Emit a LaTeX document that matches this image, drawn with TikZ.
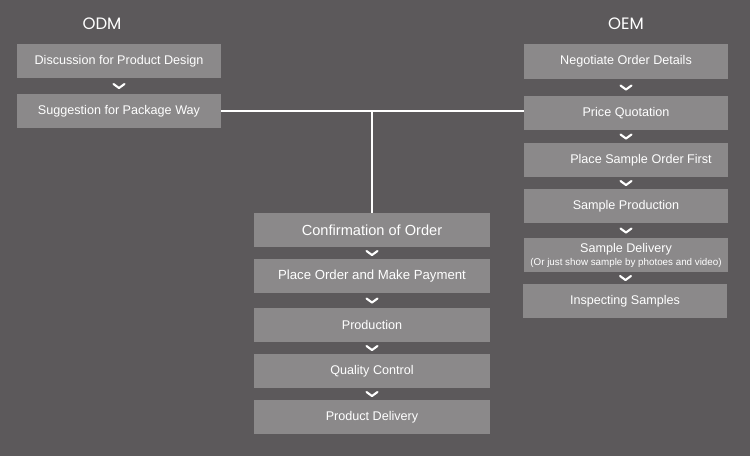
\documentclass[tikz,border=0pt]{standalone}
\usepackage{fontspec}
\setmainfont{Liberation Sans}
\newfontfamily\headfont{Poppins}
\usetikzlibrary{calc}
\definecolor{bgc}{HTML}{5C595B}
\definecolor{boxc}{HTML}{8B898A}
\tikzset{
  stepbox/.style={fill=boxc, text=white, inner sep=0pt, minimum height=34pt, align=center, font=\fontsize{12.6}{14}\selectfont},
  odmbox/.style={stepbox, minimum width=204pt},
  midbox/.style={stepbox, minimum width=236pt},
  head/.style={text=white, font=\headfont\fontsize{16.5}{18}\selectfont},
  link/.style={draw=white, line width=1.6pt},
  chev/.pic={\draw[white, line width=2.1pt, line cap=round, line join=round] (-5.5,-2) -- (0,2) -- (5.5,-2);}
}
\begin{document}
\begin{tikzpicture}[x=1pt, y=-1pt]
\fill[bgc] (0,0) rectangle (750,456);
\useasboundingbox (0,0) rectangle (750,456);

\node[head] (odm) at (102,24) {ODM};
\node[head] (oem) at (626,24) {OEM};

% ODM
\node[odmbox] (o1) at (119,61) {Discussion for Product Design};
\node[odmbox] (o2) at (119,111) {Suggestion for Package Way};

% OEM
\node[odmbox, minimum height=35pt] (e1) at (626,61.5) {Negotiate Order Details};
\node[odmbox] (e2) at (626,113) {Price Quotation};
\node[odmbox] (e3) at (626,160) {\hspace*{30pt}Place Sample Order First};
\node[odmbox] (e4) at (626,206) {Sample Production};
\node[odmbox] (e5) at (626,255) {Sample Delivery\\[-1pt]{\fontsize{9.8}{11}\selectfont (Or just show sample by photoes and video)}};
\node[odmbox] (e6) at (625,301) {Inspecting Samples};

% Center
\node[midbox, font=\fontsize{14.6}{16}\selectfont] (c1) at (372,230) {Confirmation of Order};
\node[midbox, font=\fontsize{13.2}{15}\selectfont] (c2) at (372,276) {Place Order and Make Payment};
\node[midbox] (c3) at (372,325) {Production};
\node[midbox] (c4) at (372,371) {Quality Control};
\node[midbox] (c5) at (372,417) {Product Delivery};

% chevrons
\foreach \a/\b in {o1/o2, e1/e2, e2/e3, e3/e4, e4/e5, e5/e6, c1/c2, c2/c3, c3/c4, c4/c5}{
  \path ($(\a.south)!0.5!(\b.north)$) pic {chev};
}

% connectors
\coordinate (j) at (o2.east);
\coordinate (jr) at (e2.west |- j);
\coordinate (jm) at (c1.north |- j);
\draw[link] (o2.east) -- (jr);
\draw[link] (jm) -- (c1.north);
\end{tikzpicture}
\end{document}
